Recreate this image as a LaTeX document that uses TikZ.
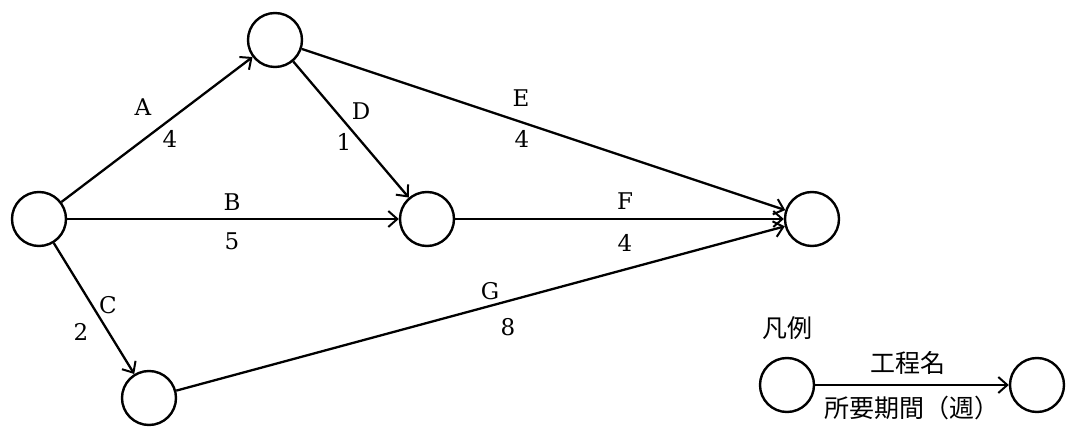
\documentclass[tikz,border=0pt]{standalone}
\usepackage{fontspec}
\setmainfont{DejaVu Serif}
\newfontfamily\jpfont{Noto Sans CJK JP}
\usetikzlibrary{arrows.meta}
\begin{document}
\begin{tikzpicture}[x=1pt,y=-1pt,
  ev/.style={circle,draw,line width=2.4pt,minimum size=54pt,inner sep=0pt},
  act/.style={-{Straight Barb[length=9pt,width=16pt,line width=2pt]},line width=2.3pt},
  lbl/.style={font=\fontsize{23}{26}\selectfont,inner sep=0pt},
  jp/.style={font=\jpfont\fontsize{25}{28}\selectfont,inner sep=0pt}]
\useasboundingbox (0,0) rectangle (1072,438);
% events
\node[ev] (s) at (39,219) {};
\node[ev] (t) at (275,40) {};
\node[ev] (m) at (427,219) {};
\node[ev] (e) at (812,219) {};
\node[ev] (b) at (149,398) {};
\node[ev] (l1) at (787,385) {};
\node[ev] (l2) at (1037,385) {};
% activities
\draw[act] (s) -- (t);
\draw[act] (s) -- (m);
\draw[act] (s) -- (b);
\draw[act] (t) -- (m);
\draw[act] (t) -- (e);
\draw[act] (m) -- (e);
\draw[act] (b) -- (e);
\draw[act] (l1) -- (l2);
% labels
\node[lbl] (la) at (143,107) {A};
\node[lbl] (da) at (170,139) {4};
\node[lbl] (lb) at (232,202) {B};
\node[lbl] (db) at (232,241) {5};
\node[lbl] (lc) at (108,305) {C};
\node[lbl] (dc) at (81,332) {2};
\node[lbl] (ld) at (361,111) {D};
\node[lbl] (dd) at (344,142) {1};
\node[lbl] (le) at (521,98) {E};
\node[lbl] (de) at (522,139) {4};
\node[lbl] (lf) at (625,201) {F};
\node[lbl] (df) at (625,243) {4};
\node[lbl] (lg) at (490,291) {G};
\node[lbl] (dg) at (508,327) {8};
% legend
\node[jp] (hanrei) at (787,328) {凡例};
\node[jp] (kname) at (908,363) {工程名};
\node[jp] (kdur) at (912,408) {所要期間（週）};
\end{tikzpicture}
\end{document}
